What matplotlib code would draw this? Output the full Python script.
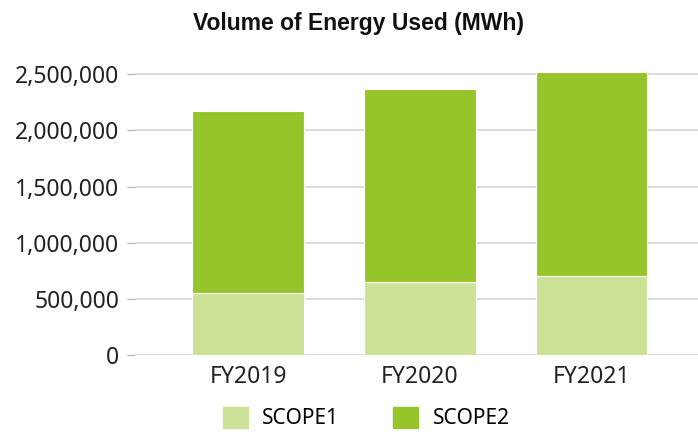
import numpy as np
import matplotlib
matplotlib.use("Agg")
import matplotlib.pyplot as plt
from matplotlib.ticker import FuncFormatter
from matplotlib.patches import Patch

years = ["FY2019", "FY2020", "FY2021"]
scope1 = [549_000, 652_000, 706_000]
scope2 = [1_624_000, 1_712_000, 1_815_000]
yticks = [0, 500_000, 1_000_000, 1_500_000, 2_000_000, 2_500_000]

c1 = "#cce296"
c2 = "#95c52a"

fig = plt.figure(figsize=(6.98, 4.34), dpi=100)
ax = fig.add_axes([0.193, 0.182, 0.807, 0.673])

x = np.arange(len(years))
ax.bar(x, scope1, width=0.65, color=c1, edgecolor="white", linewidth=0.8, zorder=3)
ax.bar(x, scope2, bottom=scope1, width=0.65, color=c2, edgecolor="white",
       linewidth=0.8, zorder=3)

ax.set_xlim(-0.66, 2.62)
ax.set_ylim(0, 2_600_000)
ax.set_yticks(yticks)
ax.yaxis.set_major_formatter(FuncFormatter(lambda v, p: f"{int(v):,}"))
ax.set_xticks(x)
ax.set_xticklabels(years)
ax.grid(axis="y", color="#d6d6d6", linewidth=1.2, zorder=0)
for s in ax.spines.values():
    s.set_visible(False)
ax.tick_params(axis="y", length=6, color="#bbbbbb", width=1, pad=5,
               labelsize=16.5, labelcolor="#222222")
ax.tick_params(axis="x", length=0, pad=7, labelsize=16.5, labelcolor="#222222")
for lab in ax.get_xticklabels() + ax.get_yticklabels():
    lab.set_fontfamily("Noto Sans")

fig.text(0.513, 0.945, "Volume of Energy Used (MWh)", ha="center", va="center",
         fontsize=16.5, fontweight="bold", family="Liberation Sans", color="#111111")

handles = [Patch(color=c1, label="SCOPE1"), Patch(color=c2, label="SCOPE2")]
fig.legend(handles=handles, loc="center", bbox_to_anchor=(0.525, 0.037), ncol=2,
           frameon=False, prop={"family": "Noto Sans", "size": 15},
           handlelength=1.2, handleheight=1.2, columnspacing=2.6, handletextpad=0.7)

fig.savefig("out.png", dpi=100)
